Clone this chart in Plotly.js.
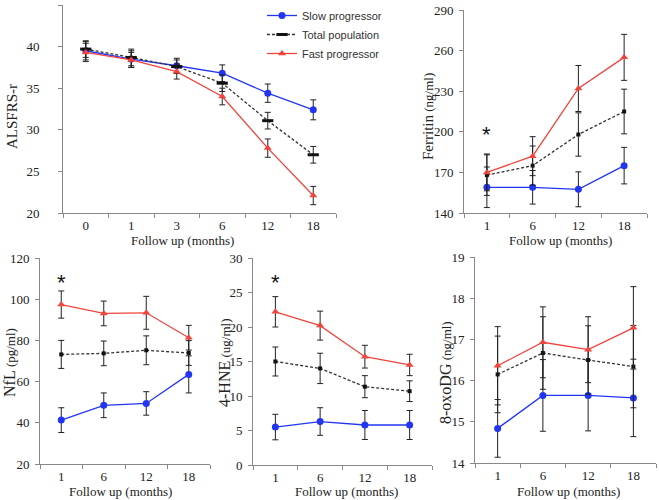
<!DOCTYPE html>
<html>
<head>
<meta charset="utf-8">
<script src="https://cdn.plot.ly/plotly-3.0.1.min.js"></script>
<style>html,body{margin:0;padding:0;background:#fff;}#chart{width:659px;height:500px;}</style>
</head>
<body>
<div id="chart"></div>
<script>
// ---------- data ----------
const seriesNames = ["Slow progressor", "Total population", "Fast progressor"];

const alsCats = ["0", "1", "3", "6", "12", "18"];
const alsSlow = [39.5, 38.5, 37.7, 36.8, 34.4, 32.4];
const alsSlowErr = [1.1, 1.0, 0.9, 1.0, 1.1, 1.2];
const alsTotal = [39.7, 38.7, 37.6, 35.6, 31.1, 27.0];
const alsTotalErr = [1.0, 1.0, 0.8, 1.0, 1.0, 1.0];
const alsFast = [39.3, 38.4, 37.0, 34.0, 27.8, 22.1];
const alsFastErr = [1.1, 0.9, 0.9, 1.0, 1.1, 1.1];

const bioCats = ["1", "6", "12", "18"];

const ferSlow = [159, 159, 157.5, 175];
const ferSlowErr = [15, 12.4, 12.9, 13.5];
const ferTotal = [168, 175, 198, 215];
const ferTotalErr = [15, 14.5, 16, 16.5];
const ferFast = [170, 182, 232, 255];
const ferFastErr = [13.6, 14.4, 17, 17];

const nflSlow = [41.3, 48.5, 49.4, 63.5];
const nflSlowErr = [6, 6, 5.7, 9];
const nflTotal = [73.2, 73.7, 75.2, 73.9];
const nflTotalErr = [6.8, 6, 7, 6];
const nflFast = [97.4, 93.1, 93.4, 81.3];
const nflFastErr = [6.6, 6, 8, 6];

const hneSlow = [5.5, 6.3, 5.8, 5.8];
const hneSlowErr = [1.85, 2.0, 2.1, 2.1];
const hneTotal = [15.0, 14.0, 11.35, 10.7];
const hneTotalErr = [2.1, 2.2, 1.6, 1.5];
const hneFast = [22.2, 20.2, 15.7, 14.5];
const hneFastErr = [2.2, 2.1, 1.65, 1.55];

const oxoSlow = [14.84, 15.64, 15.64, 15.58];
const oxoSlowErr = [0.7, 0.87, 0.86, 0.94];
const oxoTotal = [16.15, 16.67, 16.5, 16.34];
const oxoTotalErr = [0.93, 0.88, 0.83, 1.0];
const oxoFast = [16.36, 16.93, 16.75, 17.28];
const oxoFastErr = [0.95, 0.86, 0.8, 1.0];

// significance markers
const sigAxes = ["x2", "x3", "x4"];
const sigCats = ["1", "1", "1"];
const sigY = [198, 108, 26.5];

// ---------- styling ----------
const BLUE = "#2236f2", RED = "#f0443c", BLACK = "#111";
const serif = "Liberation Serif, Times New Roman, serif";
const sans = "Liberation Sans, Arial, sans-serif";

function errBar(arr) {
  return {type: "data", array: arr, visible: true, color: "#222", thickness: 1, width: 3};
}
function tr(ax, cats, vals, errs, kind, first) {
  const t = {
    type: "scatter", mode: "lines+markers", x: cats, y: vals,
    xaxis: "x" + (ax === 1 ? "" : ax), yaxis: "y" + (ax === 1 ? "" : ax),
    error_y: errBar(errs), name: seriesNames[kind], showlegend: first,
    legendrank: kind + 1, cliponaxis: false
  };
  if (kind === 0) {
    t.line = {color: BLUE, width: 1.3};
    t.marker = {color: BLUE, symbol: "circle", size: 7};
  } else if (kind === 1) {
    t.line = {color: "#333", width: 1.3, dash: "3px,2px"};
    t.marker = first ? {color: BLACK, symbol: "line-ew", size: 8, line: {color: BLACK, width: 3}}
                     : {color: BLACK, symbol: "square", size: 4};
  } else {
    t.line = {color: RED, width: 1.3};
    t.marker = {color: RED, symbol: "triangle-up", size: 7};
  }
  return t;
}

const data = [
  tr(1, alsCats, alsSlow, alsSlowErr, 0, true),
  tr(1, alsCats, alsTotal, alsTotalErr, 1, true),
  tr(1, alsCats, alsFast, alsFastErr, 2, true),
  tr(2, bioCats, ferSlow, ferSlowErr, 0, false),
  tr(2, bioCats, ferTotal, ferTotalErr, 1, false),
  tr(2, bioCats, ferFast, ferFastErr, 2, false),
  tr(3, bioCats, nflSlow, nflSlowErr, 0, false),
  tr(3, bioCats, nflTotal, nflTotalErr, 1, false),
  tr(3, bioCats, nflFast, nflFastErr, 2, false),
  tr(4, bioCats, hneSlow, hneSlowErr, 0, false),
  tr(4, bioCats, hneTotal, hneTotalErr, 1, false),
  tr(4, bioCats, hneFast, hneFastErr, 2, false),
  tr(5, bioCats, oxoSlow, oxoSlowErr, 0, false),
  tr(5, bioCats, oxoTotal, oxoTotalErr, 1, false),
  tr(5, bioCats, oxoFast, oxoFastErr, 2, false)
];

const W = 659, H = 500;
const px = v => v / W, py = v => 1 - v / H;

function xax(l, r, n, anchor) {
  return {
    domain: [px(l), px(r)], anchor: anchor, type: "category", range: [-0.5, n - 0.5],
    tickson: "boundaries", ticks: "outside", ticklen: 4, tickcolor: "#888",
    showline: true, linecolor: "#888", linewidth: 1, showgrid: false, zeroline: false,
    tickfont: {family: serif, size: 13, color: "#222"}, ticklabelstandoff: 0, fixedrange: true
  };
}
function yax(t, b, lo, hi, dt, anchor, standoff) {
  return {
    domain: [py(b), py(t)], anchor: anchor, range: [lo, hi], dtick: dt, tick0: lo,
    ticks: "outside", ticklen: 4, tickcolor: "#888",
    showline: true, linecolor: "#888", linewidth: 1, showgrid: false, zeroline: false,
    tickfont: {family: serif, size: 13, color: "#222"}, ticklabelstandoff: standoff || 2,
    fixedrange: true
  };
}

const annotations = [];
function title(text, x, y, rot) {
  annotations.push({
    text: text, xref: "paper", yref: "paper", x: px(x), y: py(y),
    xanchor: "center", yanchor: "middle", showarrow: false, textangle: rot || 0,
    font: {family: serif, size: 13, color: "#222"}
  });
}
title("Follow up (months)", 182, 240);
title("Follow up (months)", 560, 240);
title("Follow up (months)", 120, 491);
title("Follow up (months)", 346, 491);
title("Follow up (months)", 568, 491);
title('<span style="font-size:15px">ALSFRS-r</span>', 12, 117, -90);
title('<span style="font-size:15px">Ferritin</span> (ng/ml)', 428, 116, -90);
title('<span style="font-size:16px">NfL</span> (pg/ml)', 9, 363, -90);
title('<span style="font-size:16px">4-HNE</span> (ug/ml)', 224, 363, -90);
title('<span style="font-size:16px">8-oxoDG</span> (ng/ml)', 445, 373, -90);

for (let i = 0; i < sigAxes.length; i++) {
  annotations.push({
    text: "*", xref: sigAxes[i], yref: sigAxes[i].replace("x", "y"),
    x: bioCats.indexOf(sigCats[i]), y: sigY[i], showarrow: false,
    xanchor: "center", yanchor: "middle",
    font: {family: sans, size: 22, color: "#111"}
  });
}

const layout = {
  width: W, height: H, margin: {l: 0, r: 0, t: 0, b: 0},
  paper_bgcolor: "#fff", plot_bgcolor: "rgba(0,0,0,0)",
  showlegend: true,
  legend: {
    x: px(262), y: py(1), xanchor: "left", yanchor: "top",
    bgcolor: "rgba(0,0,0,0)", font: {family: sans, size: 11, color: "#333"},
    tracegroupgap: 0, traceorder: "normal"
  },
  xaxis: xax(63, 336, 6, "y"),
  yaxis: yax(5, 213, 20, 45, 5, "x", 16),
  xaxis2: xax(464, 647, 4, "y2"),
  yaxis2: yax(10, 213, 140, 290, 30, "x2", 3),
  xaxis3: xax(40, 210, 4, "y3"),
  yaxis3: yax(258, 464, 20, 120, 20, "x3", 3),
  xaxis4: xax(253, 432, 4, "y4"),
  yaxis4: yax(258, 465, 0, 30, 5, "x4", 3),
  xaxis5: xax(475, 656, 4, "y5"),
  yaxis5: yax(257, 463, 14, 19, 1, "x5", 3),
  annotations: annotations
};

Plotly.newPlot("chart", data, layout, {displayModeBar: false, staticPlot: true});
</script>
</body>
</html>
